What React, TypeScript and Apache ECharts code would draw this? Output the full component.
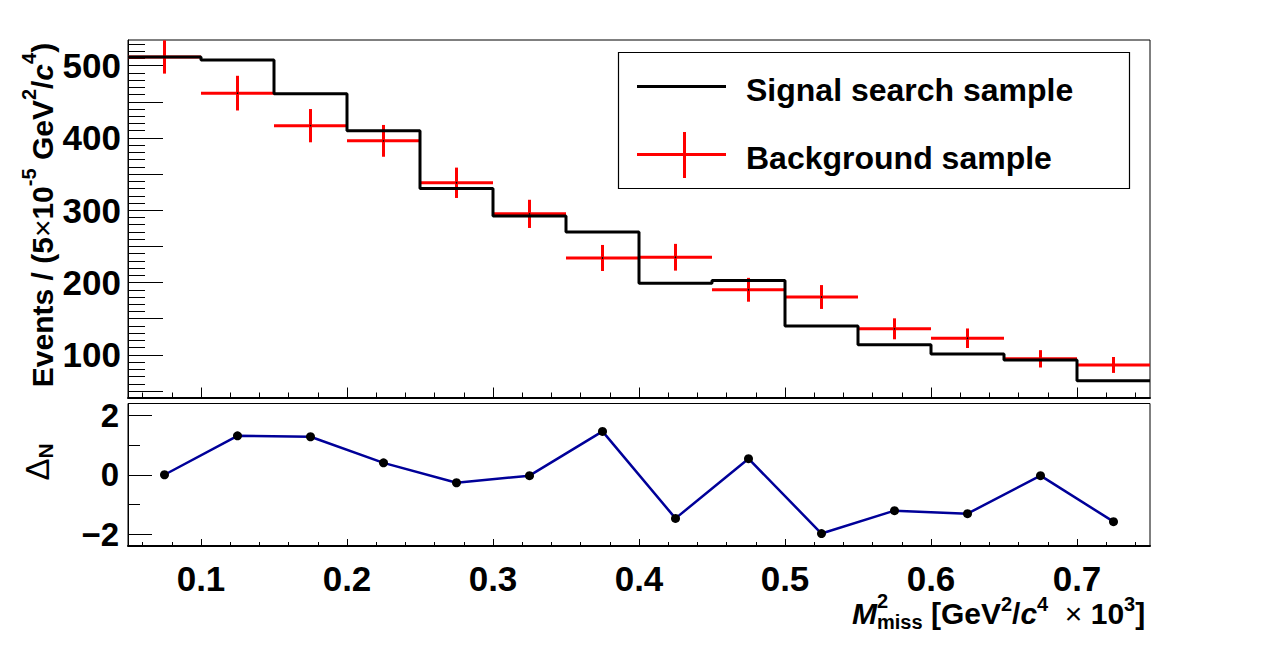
import React, { useEffect, useRef } from "react";
import * as echarts from "echarts";

// Histogram bins (M^2_miss, x 10^3 GeV^2/c^4)
const binCenters = [0.075, 0.125, 0.175, 0.225, 0.275, 0.325, 0.375, 0.425, 0.475, 0.525, 0.575, 0.625, 0.675, 0.725];
const binWidth = 0.05;

// Signal search sample (black step histogram)
const signalCounts = [512, 508, 461, 410, 330, 292, 270, 199, 203, 140, 114, 101, 93, 64];

// Background sample (red points with errors)
const backgroundCounts = [512, 462, 417, 396, 338, 295, 234, 235, 190, 180, 136, 123, 94.5, 86];
const backgroundErrors = [23, 24, 23, 22, 21, 19.5, 18, 18.5, 16.5, 16.5, 14.5, 13.5, 12, 11];

// Normalised difference per bin (lower pad)
const deltaN = [0.0, 1.31, 1.28, 0.4, -0.27, -0.03, 1.46, -1.47, 0.54, -1.98, -1.21, -1.31, -0.03, -1.58];

// Axis ticks
const xMajorTicks = [0.1, 0.2, 0.3, 0.4, 0.5, 0.6, 0.7];
const yTopLabels = [100, 200, 300, 400, 500];
const yTopMajorTicks = [50, 100, 150, 200, 250, 300, 350, 400, 450, 500];
const yBottomLabels = [-2, 0, 2];
const yBottomMinorTicks = [-1, 1];

const X_MIN = 0.05;
const X_MAX = 0.75;
const Y_TOP_MIN = 41;
const Y_TOP_MAX = 535.5;
const Y_BOT_MIN = -2.4;
const Y_BOT_MAX = 2.4;

const FONT = '"Liberation Sans", Arial, Helvetica, sans-serif';

function minorTicks(from: number, to: number, step: number, skipEvery: number): number[] {
  const out: number[] = [];
  const n = Math.round((to - from) / step);
  for (let i = 0; i <= n; i++) {
    const v = Math.round((from + i * step) * 1e6) / 1e6;
    if (Math.round(v / step) % skipEvery !== 0) out.push(v);
  }
  return out;
}

const xMinorTicks = minorTicks(0.06, 0.74, 0.02, 5);
const yTopMinorTicks = minorTicks(50, 530, 10, 5);

export default function App() {
  const ref = useRef<HTMLDivElement>(null);

  useEffect(() => {
    if (!ref.current) return;
    const chart = echarts.init(ref.current, undefined, { renderer: "svg" });

    // step histogram built from bin edges
    const stepData: number[][] = binCenters.map((c, i) => [c - binWidth / 2, signalCounts[i]]);
    stepData.push([binCenters[binCenters.length - 1] + binWidth / 2, signalCounts[signalCounts.length - 1]]);

    const bkgData = binCenters.map((c, i) => [c, backgroundCounts[i], backgroundErrors[i]]);
    const deltaData = binCenters.map((c, i) => [c, deltaN[i]]);

    const base = { fontFamily: FONT, fontWeight: "bold" as const, color: "#000" };

    const xAxisCommon = (gridIndex: number) => ({
      type: "value" as const,
      gridIndex,
      min: X_MIN,
      max: X_MAX,
      position: "bottom" as const,
      splitLine: { show: false },
    });

    const yAxisCommon = (gridIndex: number, min: number, max: number) => ({
      type: "value" as const,
      gridIndex,
      min,
      max,
      position: "left" as const,
      offset: 0,
      splitLine: { show: false },
    });

    const txt = (size: number, extra: any = {}) => ({
      fontFamily: FONT,
      fontWeight: "bold",
      fontSize: size,
      lineHeight: 38,
      fill: "#000",
      ...extra,
    });

    const option: any = {
      animation: false,
      backgroundColor: "#fff",
      grid: [
        { left: 128, top: 40, right: 128, height: 357.5, show: true, borderColor: "#000", borderWidth: 1, backgroundColor: "transparent" },
        { left: 128, top: 403.5, right: 128, height: 142.5, show: true, borderColor: "#000", borderWidth: 1, backgroundColor: "transparent" },
      ],
      xAxis: [
        {
          ...xAxisCommon(0),
          axisLine: { show: true, onZero: false, lineStyle: { color: "#000", width: 2 } },
          axisTick: { show: true, inside: true, length: 10, customValues: xMajorTicks, lineStyle: { color: "#000", width: 1 } },
          axisLabel: { show: false },
        },
        {
          ...xAxisCommon(0),
          axisLine: { show: false, onZero: false },
          axisTick: { show: true, inside: true, length: 5, customValues: xMinorTicks, lineStyle: { color: "#000", width: 1 } },
          axisLabel: { show: false },
        },
        {
          ...xAxisCommon(1),
          axisLine: { show: true, onZero: false, lineStyle: { color: "#000", width: 2 } },
          axisTick: { show: true, inside: true, length: 7, customValues: xMajorTicks, lineStyle: { color: "#000", width: 1 } },
          axisLabel: {
            show: true,
            customValues: xMajorTicks,
            margin: 15,
            fontSize: 35,
            ...base,
            formatter: (v: number) => String(Math.round(v * 10) / 10),
          },
        },
        {
          ...xAxisCommon(1),
          axisLine: { show: false, onZero: false },
          axisTick: { show: true, inside: true, length: 4, customValues: xMinorTicks, lineStyle: { color: "#000", width: 1 } },
          axisLabel: { show: false },
        },
      ],
      yAxis: [
        {
          ...yAxisCommon(0, Y_TOP_MIN, Y_TOP_MAX),
          axisLine: { show: true, onZero: false, lineStyle: { color: "#000", width: 1 } },
          axisTick: { show: true, inside: true, length: 35, customValues: yTopMajorTicks, lineStyle: { color: "#000", width: 1 } },
          axisLabel: { show: true, customValues: yTopLabels, margin: 7, fontSize: 35, ...base },
        },
        {
          ...yAxisCommon(0, Y_TOP_MIN, Y_TOP_MAX),
          axisLine: { show: false, onZero: false },
          axisTick: { show: true, inside: true, length: 17, customValues: yTopMinorTicks, lineStyle: { color: "#000", width: 1 } },
          axisLabel: { show: false },
        },
        {
          ...yAxisCommon(1, Y_BOT_MIN, Y_BOT_MAX),
          axisLine: { show: true, onZero: false, lineStyle: { color: "#000", width: 1 } },
          axisTick: { show: true, inside: true, length: 24, customValues: yBottomLabels, lineStyle: { color: "#000", width: 1 } },
          axisLabel: {
            show: true,
            customValues: yBottomLabels,
            margin: 9,
            fontSize: 33,
            ...base,
            formatter: (v: number) => (v < 0 ? "\u2212" + Math.abs(v) : String(v)),
          },
        },
        {
          ...yAxisCommon(1, Y_BOT_MIN, Y_BOT_MAX),
          axisLine: { show: false, onZero: false },
          axisTick: { show: true, inside: true, length: 12, customValues: yBottomMinorTicks, lineStyle: { color: "#000", width: 1 } },
          axisLabel: { show: false },
        },
      ],
      series: [
        {
          name: "Background sample",
          type: "custom",
          xAxisIndex: 0,
          yAxisIndex: 0,
          z: 2,
          data: bkgData,
          renderItem: (params: any, api: any) => {
            const xc = api.value(0);
            const v = api.value(1);
            const e = api.value(2);
            const l = api.coord([xc - binWidth / 2, v]);
            const r = api.coord([xc + binWidth / 2, v]);
            const t = api.coord([xc, v + e]);
            const b = api.coord([xc, v - e]);
            const cs = params.coordSys;
            const clampY = (y: number) => Math.max(cs.y, Math.min(cs.y + cs.height, y));
            const stroke = { stroke: "#ff0000", lineWidth: 3 };
            return {
              type: "group",
              children: [
                { type: "line", shape: { x1: l[0], y1: l[1], x2: r[0], y2: r[1] }, style: stroke },
                { type: "line", shape: { x1: t[0], y1: clampY(t[1]), x2: b[0], y2: clampY(b[1]) }, style: stroke },
                { type: "circle", shape: { cx: l[0] + (r[0] - l[0]) / 2, cy: l[1], r: 0.8 }, style: { fill: "#000" } },
              ],
            };
          },
        },
        {
          name: "Signal search sample",
          type: "line",
          xAxisIndex: 0,
          yAxisIndex: 0,
          z: 3,
          step: "end",
          data: stepData,
          symbol: "none",
          lineStyle: { color: "#000", width: 3 },
        },
        {
          name: "DeltaN",
          type: "line",
          xAxisIndex: 2,
          yAxisIndex: 2,
          z: 3,
          data: deltaData,
          symbol: "circle",
          symbolSize: 9,
          itemStyle: { color: "#000" },
          lineStyle: { color: "#000099", width: 2.5 },
        },
      ],
      graphic: [
        // legend box
        {
          type: "rect",
          shape: { x: 618.5, y: 52.5, width: 511, height: 136 },
          style: { fill: "#fff", stroke: "#000", lineWidth: 1.2 },
          z: 10,
        },
        { type: "line", shape: { x1: 637, y1: 86.5, x2: 726, y2: 86.5 }, style: { stroke: "#000", lineWidth: 3 }, z: 11 },
        {
          type: "text",
          x: 746,
          y: 90,
          z: 11,
          style: { text: "Signal search sample", fill: "#000", font: `bold 32px ${FONT}`, align: "left", verticalAlign: "middle" },
        },
        { type: "line", shape: { x1: 637, y1: 154.5, x2: 726, y2: 154.5 }, style: { stroke: "#ff0000", lineWidth: 3 }, z: 11 },
        { type: "line", shape: { x1: 684.5, y1: 132, x2: 684.5, y2: 178 }, style: { stroke: "#ff0000", lineWidth: 3 }, z: 11 },
        {
          type: "text",
          x: 746,
          y: 158,
          z: 11,
          style: { text: "Background sample", fill: "#000", font: `bold 32px ${FONT}`, align: "left", verticalAlign: "middle" },
        },
        // y title of upper pad
        {
          type: "text",
          x: 38,
          y: 215,
          rotation: Math.PI / 2,
          z: 11,
          style: {
            text: "{n|Events / (5}{x|×}{n|10}{sup|-5}{n| GeV}{sup|2}{n|/}{it|c}{sup|4}{n|)}",
            align: "center",
            verticalAlign: "middle",
            rich: {
              n: txt(30, { verticalAlign: "bottom" }),
              x: txt(30, { verticalAlign: "bottom", fontWeight: "normal" }),
              it: txt(30, { verticalAlign: "bottom", fontStyle: "italic" }),
              sup: txt(20, { verticalAlign: "top" }),
            },
          },
        },
        // y title of lower pad
        {
          type: "text",
          x: 37,
          y: 462,
          rotation: Math.PI / 2,
          z: 11,
          style: {
            text: "{n|\u0394}{sub|N}",
            align: "center",
            verticalAlign: "middle",
            rich: {
              n: txt(33, { verticalAlign: "middle", fontWeight: "normal" }),
              sub: txt(21, { verticalAlign: "bottom" }),
            },
          },
        },
        // x title
        {
          type: "text",
          x: 852,
          y: 613,
          z: 11,
          style: {
            text: "{it|M}{sub|miss}{n| [GeV}{sup|2}{n|/}{it|c}{sup|4}{n|  }{x|×}{n| 10}{sup|3}{n|]}",
            align: "left",
            verticalAlign: "middle",
            rich: {
              n: txt(30, { verticalAlign: "middle" }),
              x: txt(30, { verticalAlign: "middle", fontWeight: "normal" }),
              it: txt(30, { verticalAlign: "middle", fontStyle: "italic" }),
              sup: txt(20, { verticalAlign: "top" }),
              sub: txt(20, { verticalAlign: "bottom" }),
            },
          },
        },
        {
          type: "text",
          x: 877,
          y: 611,
          z: 11,
          style: { text: "2", fill: "#000", font: `bold 20px ${FONT}`, align: "left", verticalAlign: "bottom" },
        },
      ],
    };

    chart.setOption(option);
    return () => chart.dispose();
  }, []);

  return <div ref={ref} style={{ position: "fixed", left: 0, top: 0, width: 1278, height: 668 }} />;
}
